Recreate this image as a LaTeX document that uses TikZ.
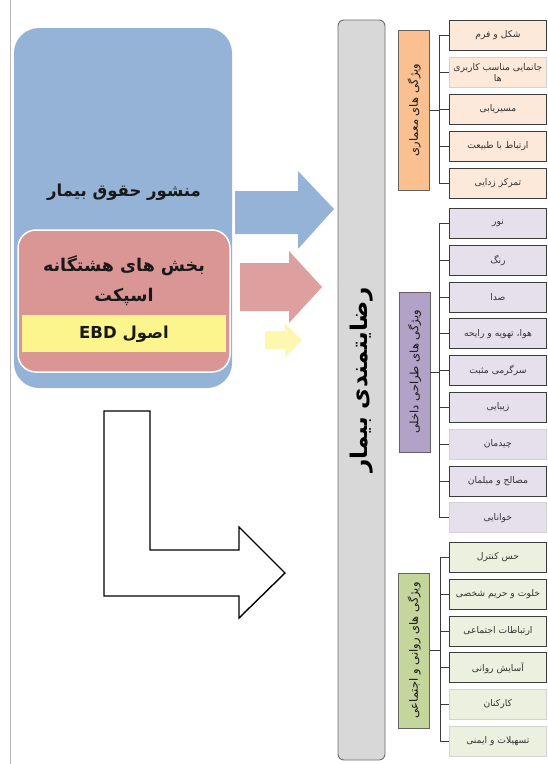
\documentclass[tikz,border=0pt]{standalone}
\usepackage{fontspec}
\TeXXeTstate=1
\newfontfamily\arabicfont[Script=Arabic]{DejaVu Sans}
\newcommand\pers[1]{\beginR #1\endR}
\definecolor{bluebox}{RGB}{149,179,215}
\definecolor{redbox}{RGB}{217,150,148}
\definecolor{yellowbox}{RGB}{252,244,140}
\definecolor{barfill}{RGB}{216,216,216}
\definecolor{barline}{RGB}{110,110,110}
\definecolor{orangecat}{RGB}{250,192,144}
\definecolor{purplecat}{RGB}{179,162,199}
\definecolor{greencat}{RGB}{195,214,155}
\definecolor{orangeitem}{RGB}{253,233,217}
\definecolor{purpleitem}{RGB}{230,224,236}
\definecolor{greenitem}{RGB}{235,241,222}
\definecolor{darkline}{RGB}{60,60,60}
\begin{document}
\begin{tikzpicture}[x=1pt,y=-1pt,
  item/.style={draw=darkline, line width=0.9pt, minimum width=97pt, minimum height=30pt,
    inner sep=1pt, anchor=north west, align=center, text=black!80,
    font=\arabicfont\fontsize{9.2}{11}\selectfont},
  faint/.style={item, draw=gray!35, line width=0.6pt},
  cat/.style={draw=darkline!80, line width=0.9pt, rotate=90, inner sep=1pt,
    minimum height=31pt, text=black!90, font=\arabicfont\fontsize{11.5}{13}\selectfont},
  link/.style={draw=darkline, line width=0.9pt},
  bigtext/.style={font=\arabicfont\bfseries\fontsize{16.5}{30}\selectfont, text=black!90}
]
\useasboundingbox (0,0) rectangle (548,764);
\fill[white] (0,0) rectangle (548,764);

% thin page rule on the left
\coordinate (ruletop) at (10,0);
\coordinate (rulebot) at (10,764);
\draw[gray!55, line width=0.7pt] (ruletop) -- (rulebot);

% left stacked boxes
\node[fill=bluebox, rounded corners=25pt, minimum width=218pt, minimum height=360pt] (blue) at (123,208) {};
\node[fill=redbox, draw=white, line width=1.5pt, rounded corners=18pt, minimum width=212pt, minimum height=142pt] (red) at (124,301) {};
\node[fill=yellowbox, minimum width=204pt, minimum height=37pt] (yellow) at (124,333.5) {};
\node[bigtext] (bluetxt) at (124,192) {\pers{منشور حقوق بیمار}};
\node[bigtext, font=\arabicfont\bfseries\fontsize{17.5}{30}\selectfont, align=center] (redtxt) at (124,281) {\pers{بخش های هشتگانه}\\\pers{اسپکت}};
\node[bigtext] (yellowtxt) at (124,334) {\pers{اصول \beginL EBD\endL}};

% block arrows towards the main bar
\fill[bluebox] (235,191) -- (298,191) -- (298,171) -- (334,209) -- (298,249) -- (298,234) -- (235,234) -- cycle;
\fill[redbox!90] (240,263) -- (289,263) -- (289,251) -- (322,287) -- (289,323) -- (289,311) -- (240,311) -- cycle;
\fill[yellowbox!80, opacity=0.85] (265,331) -- (285,331) -- (285,323) -- (302,340) -- (285,357) -- (285,349) -- (265,349) -- cycle;

% outlined elbow arrow
\draw[black, line width=1.4pt, line join=miter, fill=white]
  (104,411) -- (150,411) -- (150,550) -- (239,550) -- (239,527) -- (285,573)
  -- (239,618) -- (239,596) -- (104,596) -- cycle;

% main vertical bar
\node[fill=barfill, draw=barline, line width=0.9pt, rounded corners=6pt,
  minimum width=740pt, minimum height=47pt, rotate=90] (bar) at (361.5,390) {};
\node[rotate=90, font=\arabicfont\bfseries\fontsize{23}{26}\selectfont, text=black] (bartxt) at (362,380) {\pers{رضایتمندی بیمار}};

% category boxes
\node[cat, fill=orangecat, minimum width=160pt] (ca) at (414,110) {\pers{ویژگی های معماری}};
\node[cat, fill=purplecat, minimum width=160pt] (cb) at (414.5,372) {\pers{ویژگی های طراحی داخلی}};
\node[cat, fill=greencat, minimum width=155pt] (cc) at (414,650.5) {\pers{ویژگی های روانی و اجتماعی}};

% architectural items
\node[item, fill=orangeitem] (a1) at (449,20) {\pers{شکل و فرم}};
\node[faint, fill=orangeitem] (a2) at (449,57) {\pers{جانمایی مناسب کاربری}\\\pers{ها}};
\node[item, fill=orangeitem] (a3) at (449,94) {\pers{مسیریابی}};
\node[item, fill=orangeitem] (a4) at (449,131) {\pers{ارتباط با طبیعت}};
\node[item, fill=orangeitem] (a5) at (449,168) {\pers{تمرکز زدایی}};

% interior design items
\node[item, fill=purpleitem] (b1) at (449,208) {\pers{نور}};
\node[item, fill=purpleitem] (b2) at (449,244.8) {\pers{رنگ}};
\node[item, fill=purpleitem] (b3) at (449,281.6) {\pers{صدا}};
\node[item, fill=purpleitem] (b4) at (449,318.4) {\pers{هوا، تهویه و رایحه}};
\node[item, fill=purpleitem] (b5) at (449,355.2) {\pers{سرگرمی مثبت}};
\node[item, fill=purpleitem] (b6) at (449,392) {\pers{زیبایی}};
\node[faint, fill=purpleitem] (b7) at (449,428.8) {\pers{چیدمان}};
\node[item, fill=purpleitem] (b8) at (449,465.6) {\pers{مصالح و مبلمان}};
\node[faint, fill=purpleitem] (b9) at (449,502.4) {\pers{خوانایی}};

% psychological and social items
\node[item, fill=greenitem] (c1) at (449,542) {\pers{حس کنترل}};
\node[item, fill=greenitem] (c2) at (449,578.8) {\pers{خلوت و حریم شخصی}};
\node[item, fill=greenitem] (c3) at (449,615.6) {\pers{ارتباطات اجتماعی}};
\node[item, fill=greenitem] (c4) at (449,652.4) {\pers{آسایش روانی}};
\node[faint, fill=greenitem] (c5) at (449,689.2) {\pers{کارکنان}};
\node[faint, fill=greenitem] (c6) at (449,726) {\pers{تسهیلات و ایمنی}};

% elbow connectors from each category to its items
\foreach \n in {a1,a2,a3,a4,a5}
  \draw[link] (ca.south) -- ++(9,0) |- (\n.west);
\foreach \n in {b1,b2,b3,b4,b5,b6,b7,b8,b9}
  \draw[link] (cb.south) -- ++(9,0) |- (\n.west);
\foreach \n in {c1,c2,c3,c4,c5,c6}
  \draw[link] (cc.south) -- ++(10,0) |- (\n.west);
\end{tikzpicture}
\end{document}
